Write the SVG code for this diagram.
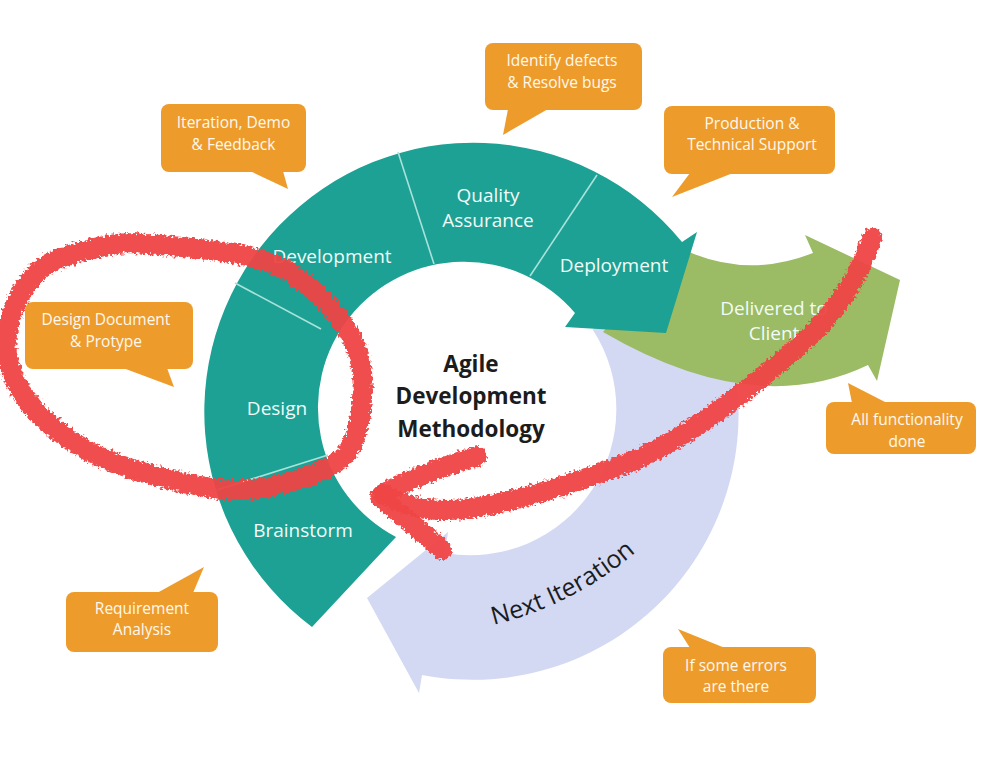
<svg xmlns="http://www.w3.org/2000/svg" width="1001" height="759" viewBox="0 0 1001 759">
<defs>
<style>
.lbl{font-family:"Open Sans","Liberation Sans",sans-serif;fill:#f2fbf9;text-anchor:middle;font-size:19px}
.co{fill:#ED9C2C}
.cot{font-family:"Open Sans","Liberation Sans",sans-serif;fill:#fff8ec;text-anchor:middle;font-size:15.5px}
.title{font-family:"Open Sans","Liberation Sans",sans-serif;fill:#1c1c1c;text-anchor:middle;font-size:22.5px;font-weight:bold}
.div{stroke:#a9e2db;stroke-width:1.6;fill:none}
.red{fill:none;stroke:#EF4444;stroke-width:20;stroke-linecap:round;stroke-linejoin:round;opacity:0.95}
</style>
<filter id="rough" x="-5%" y="-5%" width="110%" height="110%">
<feTurbulence type="fractalNoise" baseFrequency="0.35" numOctaves="2" seed="3" result="n"/>
<feDisplacementMap in="SourceGraphic" in2="n" scale="8" xChannelSelector="R" yChannelSelector="G"/>
<feGaussianBlur stdDeviation="0.7"/>
</filter>
<path id="nextArc" d="M 456,631.5 A 340 340 0 0 0 663.3,525.9"/>
</defs>
<rect width="1001" height="759" fill="#ffffff"/>

<g id="next-iteration">
<path fill="#D3D8F3" d="M 593,330 L 600,305 L 725,305 L 725,330 A 266 266 0 0 1 422,675 L 419,693 L 367,598 L 448,532 L 445,553 A 146 146 0 0 0 593,330 Z"/>
<text font-family="'Open Sans','Liberation Sans',sans-serif" font-size="25" fill="#1c1c1c" text-anchor="middle"><textPath href="#nextArc" startOffset="50%">Next Iteration</textPath></text>
</g>

<g id="delivered">
<path fill="#9BBB64" d="M 603,332 L 640,290 L 689,252 Q 750,278 813,253 L 805,235 L 900,280 L 877,381 L 868,365 Q 754,420 603,332 Z"/>
<text class="lbl" x="774" y="315" font-size="18.5">Delivered to</text>
<text class="lbl" x="774" y="340" font-size="18.5">Client</text>
</g>

<g id="cycle">
<path fill="#1CA194" d="M 396,537 L 312,627 A 269 269 0 1 1 682,242 L 697,232 L 666,333 L 565,327 L 575,313 A 146 146 0 1 0 396,537 Z"/>
</g>

<g id="connectors">
<line class="div" x1="328" y1="455" x2="217" y2="490"/>
<line class="div" x1="321" y1="329" x2="235" y2="283"/>
<line class="div" x1="434" y1="264" x2="398" y2="152"/>
<line class="div" x1="530" y1="276" x2="597" y2="175"/>
</g>

<g id="brainstorm"><text class="lbl" x="303" y="537">Brainstorm</text></g>
<g id="design"><text class="lbl" x="277" y="415">Design</text></g>
<g id="development"><text class="lbl" x="332" y="263">Development</text></g>
<g id="quality-assurance"><text class="lbl" x="488" y="202">Quality</text><text class="lbl" x="488" y="227">Assurance</text></g>
<g id="deployment"><text class="lbl" x="614" y="272">Deployment</text></g>

<g id="center-title">
<text class="title" x="471" y="372">Agile</text>
<text class="title" x="471" y="403.5">Development</text>
<text class="title" x="471" y="437">Methodology</text>
</g>

<g id="callout-iteration">
<rect class="co" x="161" y="104" width="145" height="68" rx="8"/>
<polygon class="co" points="250,171 288,189 283,171"/>
<text class="cot" x="233.5" y="128">Iteration, Demo</text>
<text class="cot" x="233.5" y="150">&amp; Feedback</text>
</g>
<g id="callout-defects">
<rect class="co" x="485" y="43" width="157" height="67" rx="8"/>
<polygon class="co" points="508,109 503,135 548,109"/>
<text class="cot" x="562" y="66">Identify defects</text>
<text class="cot" x="562" y="87.5">&amp; Resolve bugs</text>
</g>
<g id="callout-support">
<rect class="co" x="664" y="106" width="171" height="68" rx="8"/>
<polygon class="co" points="690,173 672,197 733,173"/>
<text class="cot" x="752" y="128.5">Production &amp;</text>
<text class="cot" x="752" y="150">Technical Support</text>
</g>
<g id="callout-design">
<rect class="co" x="25" y="302" width="168" height="67" rx="8"/>
<polygon class="co" points="123,368 174,387 167,368"/>
<text class="cot" x="106" y="325">Design Document</text>
<text class="cot" x="106" y="347">&amp; Protype</text>
</g>
<g id="callout-requirement">
<rect class="co" x="66" y="592" width="152" height="60" rx="8"/>
<polygon class="co" points="157,593 204,567 193,593"/>
<text class="cot" x="142" y="613.5">Requirement</text>
<text class="cot" x="142" y="635">Analysis</text>
</g>
<g id="callout-errors">
<rect class="co" x="663" y="647" width="153" height="56" rx="8"/>
<polygon class="co" points="690,648 678,629 725,648"/>
<text class="cot" x="736" y="671">If some errors</text>
<text class="cot" x="736" y="692">are there</text>
</g>
<g id="callout-done">
<rect class="co" x="826" y="402" width="150" height="52" rx="8"/>
<polygon class="co" points="852,403 848,383 887,403"/>
<text class="cot" x="907" y="424.5">All functionality</text>
<text class="cot" x="907" y="446.5">done</text>
</g>

<g id="annotations" filter="url(#rough)">
<path class="red" d="M133,243 C158.8,244.8 224.7,249.8 255,258 C285.3,266.2 298.3,277.5 315,292 C331.7,306.5 347.2,327 355,345 C362.8,363 363.7,381.7 362,400 C360.3,418.3 357,441.3 345,455 C333,468.7 308.7,476.2 290,482 C271.3,487.8 254.7,490.8 233,490 C211.3,489.2 183.8,483.3 160,477 C136.2,470.7 110.8,463.2 90,452 C69.2,440.8 48.7,425.3 35,410 C21.3,394.7 11.5,377 8,360 C4.5,343 7.8,323.7 14,308 C20.2,292.3 30.7,276.2 45,266 C59.3,255.8 85.3,250.8 100,247 C114,244 122,243 133,243"/>
<path class="red" d="M 872,238 C 860,275 835,315 800,345 C 760,380 700,430 640,458 C 580,482 500,508 450,510 C 420,511 400,503 383,494"/>
<path class="red" d="M 477,456 C 445,466 410,478 383,494 L 380,497 C 395,510 420,530 442,550"/>
</g>
</svg>
